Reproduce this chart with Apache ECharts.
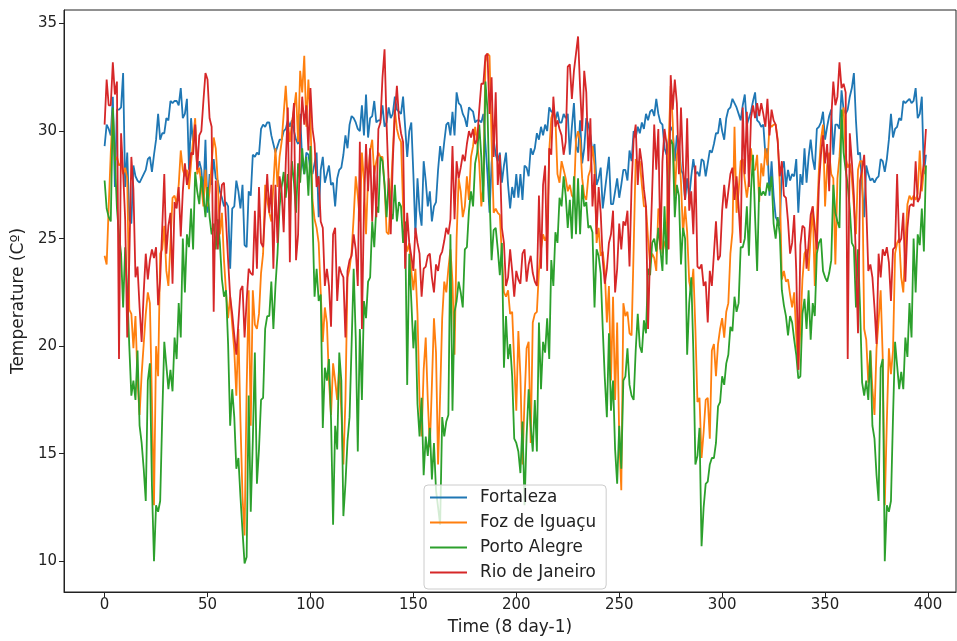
<!DOCTYPE html>
<html><head><meta charset="utf-8">
<script src="https://cdn.jsdelivr.net/npm/echarts/dist/echarts.min.js"></script>
<style>html,body{margin:0;padding:0;background:#fff;overflow:hidden}#c{width:957px;height:641px}</style>
</head><body><div id="c"></div>
<script>
const seriesNames = ["Fortaleza", "Foz de Iguaçu", "Porto Alegre", "Rio de Janeiro"];
const xTicks = [0, 50, 100, 150, 200, 250, 300, 350, 400];
const yTicks = [10, 15, 20, 25, 30, 35];

const fortaleza = [
29.3,30.3,30.1,29.8,31.6,27.4,31.0,31.0,31.1,32.7,27.4,29.0,25.9,25.7,28.4,27.9,27.7,27.6,27.8,28.0,28.2,28.7,28.8,28.1,28.9,29.6,30.8,29.6,29.9,29.9,30.6,30.5,31.4,31.3,31.4,31.4,31.2,32.0,30.6,30.8,31.5,28.2,30.6,29.4,30.3,28.2,
28.6,28.2,27.0,29.6,26.2,28.0,27.5,28.7,27.8,27.7,27.2,26.9,26.5,26.7,26.5,23.6,26.4,26.5,27.7,27.2,26.4,27.5,24.7,24.6,27.2,27.0,28.9,28.8,29.0,28.9,30.1,30.3,30.2,30.4,30.4,29.8,29.4,29.0,29.3,29.6,29.6,30.0,30.1,30.5,30.2,30.5,
30.0,29.6,29.4,30.8,28.6,28.0,29.0,28.9,28.2,28.0,28.5,29.0,26.0,28.2,28.8,27.6,28.0,28.4,27.5,27.6,26.5,27.8,28.2,28.3,28.9,29.8,29.2,30.3,30.7,30.6,30.4,30.1,30.0,31.2,29.8,31.7,29.7,30.6,30.7,31.4,30.4,30.5,30.5,31.2,30.2,30.4,
31.1,30.6,30.8,31.6,31.0,30.9,30.8,31.6,30.2,28.8,30.0,30.4,28.0,25.2,27.8,26.3,25.6,28.6,27.7,26.5,27.2,25.8,26.5,26.7,28.2,29.3,28.6,29.5,30.3,30.4,29.8,30.9,29.8,31.8,31.3,31.2,30.8,30.6,30.2,31.1,31.0,30.9,30.4,30.5,30.5,30.4,
30.8,29.4,28.0,26.2,28.5,29.6,28.9,28.6,29.0,27.6,28.4,29.0,27.5,26.4,27.4,26.9,28.0,26.9,28.0,26.8,28.4,28.3,27.9,29.2,28.9,29.2,29.9,29.6,30.2,29.8,30.3,30.0,31.1,30.9,30.9,30.5,30.9,30.4,30.4,30.8,30.6,30.8,28.9,30.2,31.3,29.3,
29.0,30.5,28.5,29.2,30.6,30.3,29.8,29.0,29.4,27.5,27.8,28.3,26.4,27.2,28.0,28.8,26.6,26.6,27.2,27.8,26.9,27.5,28.2,28.2,27.7,29.1,28.6,30.0,29.7,30.2,29.9,30.4,30.1,30.8,30.5,30.9,31.0,30.7,31.5,30.8,30.4,30.3,29.2,28.9,29.6,30.2,
30.0,28.6,29.8,29.4,28.2,28.0,26.8,27.8,26.9,27.9,28.7,28.0,28.1,27.9,28.7,28.6,27.9,28.5,29.1,29.0,29.4,29.9,29.9,30.6,30.0,29.6,30.6,31.0,31.1,31.5,31.3,31.1,30.8,30.5,31.2,31.7,30.3,30.6,30.9,31.4,31.8,30.5,30.4,30.2,30.3,28.9,
29.2,27.0,28.6,27.0,26.0,25.8,25.6,28.2,28.6,27.4,28.2,27.7,28.0,27.9,28.7,26.2,28.0,27.5,29.2,27.6,28.8,29.6,28.7,28.2,30.1,30.2,30.4,30.9,29.6,30.2,30.7,31.0,28.9,30.3,30.3,30.1,31.9,31.0,30.8,31.0,31.6,32.0,32.7,30.5,28.9,29.0,27.4,
26.0,28.4,28.0,27.7,27.8,27.6,27.8,27.9,28.7,28.6,28.1,28.7,29.6,30.8,29.7,30.1,30.2,30.6,30.5,31.4,31.3,31.4,31.5,31.3,31.4,32.0,30.6,30.8,31.6,28.0,28.9
];

const fozDeIguacu = [
24.2,23.8,26.5,29.0,31.0,28.6,28.8,28.4,28.5,28.0,28.3,27.8,21.7,21.5,19.9,21.4,18.4,16.8,18.7,20.1,21.5,22.5,22.0,17.5,12.6,20.0,18.6,24.3,24.5,25.6,23.5,22.8,24.8,26.9,27.0,26.6,27.5,29.1,28.2,27.9,28.2,27.3,28.5,29.6,30.6,28.0,
28.3,27.5,26.5,28.2,26.5,27.2,28.5,29.7,29.2,27.6,25.2,26.2,24.0,22.5,21.3,22.3,21.0,19.8,17.7,20.8,16.5,13.0,11.2,18.0,22.6,16.3,22.6,21.0,20.8,21.5,23.4,24.3,27.5,26.8,26.2,25.8,27.5,29.2,27.4,28.8,29.5,30.8,32.1,30.5,29.5,30.4,
31.0,31.8,29.5,32.8,31.8,33.5,30.2,32.4,30.6,26.8,25.9,25.5,24.8,22.5,20.2,21.8,21.1,18.4,16.8,19.2,18.4,17.5,19.1,17.0,14.5,17.5,23.2,23.6,24.4,26.0,27.9,27.0,25.8,29.0,27.7,25.2,27.9,29.1,29.6,28.0,28.6,29.0,28.8,28.8,27.5,25.3,
25.2,27.0,29.0,31.0,30.1,29.7,29.5,26.5,25.0,24.4,24.8,23.5,22.6,23.6,21.5,17.5,15.8,18.9,20.4,17.5,15.3,18.2,21.3,19.7,14.5,17.7,21.3,23.0,22.5,23.6,24.5,23.0,19.6,25.0,27.8,27.2,26.0,26.5,27.9,26.8,28.8,29.3,30.2,29.5,28.5,26.5,
27.5,33.2,33.6,33.5,29.5,26.2,26.4,26.2,26.1,24.2,22.5,22.3,22.6,21.5,21.6,19.2,17.0,20.7,18.6,14.5,17.5,19.9,20.2,15.5,21.1,21.5,21.6,23.5,24.5,25.2,24.9,25.2,29.1,30.6,31.0,30.6,28.0,27.6,28.6,28.2,27.8,27.2,27.5,27.0,26.9,29.6,
30.0,29.6,27.8,27.0,26.8,27.9,28.2,29.3,28.4,24.8,25.5,24.2,24.4,23.5,21.1,22.8,18.4,22.3,17.5,21.1,15.8,13.3,22.0,21.4,21.6,20.6,20.5,24.5,28.7,28.5,28.6,27.5,26.5,26.5,25.0,23.8,24.3,24.1,23.5,26.4,26.1,24.3,24.8,25.0,29.5,32.1,
30.4,27.0,28.9,29.4,27.6,25.2,26.5,25.3,23.0,22.5,23.6,20.8,17.4,17.6,14.8,16.0,17.5,17.6,15.7,19.8,20.1,18.6,20.1,20.8,21.3,20.4,21.6,22.0,24.3,25.3,30.2,26.2,27.2,28.6,28.7,27.7,26.9,27.7,29.2,28.2,28.2,28.9,26.7,28.5,27.9,29.2,
28.4,30.3,30.2,30.3,30.3,29.6,27.5,23.1,23.5,23.0,23.1,22.4,21.8,22.5,20.5,18.9,20.8,23.1,24.3,24.5,23.5,25.2,26.5,22.8,25.8,28.2,29.6,30.3,26.5,28.4,29.0,28.0,27.8,23.8,27.8,28.8,30.6,31.1,28.8,28.3,28.5,27.8,26.5,25.2,28.2,28.6,28.6,
20.8,20.3,18.3,19.8,18.0,16.8,19.9,21.2,22.6,19.5,12.6,16.5,19.9,18.7,19.8,24.3,24.8,25.0,23.2,22.5,24.8,26.6,27.0,26.8,27.0,26.8,27.1,29.1,27.2,28.2,28.4
];

const portoAlegre = [
27.7,26.4,26.0,25.8,31.1,28.8,26.4,25.2,24.3,21.8,24.6,22.6,20.0,17.7,18.4,17.5,19.8,16.3,15.5,14.3,12.8,18.4,19.2,13.5,10.0,12.6,12.3,12.8,16.7,20.2,19.1,18.0,18.9,17.9,20.4,19.4,22.0,20.4,25.0,22.5,25.2,24.6,26.4,24.5,28.1,27.2,
26.6,27.9,27.0,26.0,27.4,26.0,25.2,25.7,24.5,25.9,24.8,23.1,22.3,22.6,20.1,16.3,18.0,16.7,14.3,14.8,13.0,11.4,9.9,10.2,17.7,12.3,15.6,19.7,13.6,15.2,17.5,17.6,20.8,21.4,21.4,23.0,20.8,22.8,24.3,26.5,27.4,28.1,26.9,28.0,26.2,28.6,
27.6,26.2,28.5,27.6,29.2,28.0,28.8,27.0,29.3,26.0,22.3,23.6,22.1,22.4,16.2,19.0,18.4,19.4,16.6,11.7,16.3,15.2,19.7,18.4,12.1,13.6,15.6,16.7,20.1,23.6,20.4,15.1,20.8,17.5,22.1,21.3,23.0,23.2,25.8,24.6,26.5,26.2,28.8,28.6,27.5,26.0,
27.8,26.2,25.9,27.5,25.8,26.7,26.5,24.8,25.8,18.2,24.3,22.1,19.9,21.2,17.3,15.8,17.6,14.0,15.8,14.9,16.2,13.8,15.5,13.3,12.5,11.7,16.7,15.8,16.5,16.8,25.2,17.0,21.6,22.1,23.0,22.5,21.8,24.5,24.6,26.3,27.2,26.5,28.5,29.0,30.3,28.8,
26.7,32.3,31.0,27.0,24.0,25.4,25.5,24.5,23.3,24.8,19.0,21.4,19.4,20.1,18.6,15.7,15.5,15.1,14.1,16.5,12.6,15.8,18.0,16.3,15.1,17.5,15.1,21.1,18.0,20.2,19.7,21.3,19.4,24.0,22.8,25.3,24.8,26.9,26.5,27.9,27.0,25.5,26.8,25.0,27.9,25.2,
27.8,25.2,27.5,26.5,26.7,25.5,25.6,25.3,21.8,24.5,24.2,23.4,20.8,18.5,16.7,20.6,17.0,18.4,15.2,13.6,16.3,14.3,18.4,18.6,19.9,18.2,17.7,17.5,19.8,21.5,20.0,19.7,21.2,20.6,23.6,23.3,24.8,25.0,24.4,25.5,24.5,23.5,26.5,23.8,27.0,29.6,
29.4,26.0,27.5,27.0,23.8,25.5,25.0,19.6,22.0,23.2,19.8,14.5,14.9,16.2,10.7,12.5,13.6,13.7,14.5,14.8,14.8,15.5,17.2,17.4,18.6,18.2,19.2,19.6,20.9,20.7,22.3,21.6,22.0,24.6,24.6,25.0,26.5,24.2,27.2,28.9,26.0,23.5,27.4,27.0,27.2,27.0,
27.6,27.2,27.9,25.7,25.0,26.0,25.2,22.6,21.9,21.4,20.5,21.4,21.1,20.3,19.6,18.5,18.6,21.5,22.2,20.8,22.6,20.3,22.0,21.4,24.3,24.8,25.0,23.5,23.2,23.0,23.4,24.0,27.5,26.2,25.8,25.5,31.0,29.0,28.2,27.5,26.4,24.8,24.6,21.8,24.5,21.8,18.3,
17.7,18.4,17.5,19.8,16.3,15.7,14.0,12.8,19.0,19.4,10.0,12.6,12.3,12.8,16.7,20.2,19.1,18.0,18.8,18.0,20.4,19.5,22.0,20.4,25.0,22.5,25.2,24.7,26.4,24.4,28.4
];

const rioDeJaneiro = [
30.3,32.4,31.2,31.2,33.2,31.7,32.3,19.4,29.9,28.1,25.9,20.4,24.0,28.8,27.3,23.2,23.7,21.8,20.2,22.5,24.3,23.1,24.0,24.5,24.1,24.6,21.9,23.1,25.5,28.0,24.3,25.6,26.2,22.9,26.7,26.4,27.4,25.1,27.2,28.5,27.5,28.0,29.0,28.9,30.3,28.2,
29.8,30.0,31.4,32.7,32.4,30.6,30.2,21.6,27.7,24.5,26.5,27.5,27.6,25.8,24.0,22.3,21.5,20.5,19.6,21.1,22.6,22.8,20.4,22.1,23.6,23.4,23.3,26.3,23.6,27.4,24.8,24.6,26.3,28.0,26.2,27.5,23.6,27.5,24.8,27.9,27.2,25.3,28.5,31.1,23.9,30.1,
31.3,24.0,25.2,29.8,31.6,30.3,31.2,29.1,32.0,30.1,29.4,27.4,27.9,25.8,25.5,22.8,23.6,22.8,20.9,25.2,25.5,22.1,23.7,23.4,23.2,20.4,23.5,24.0,24.2,25.2,24.5,22.8,29.5,20.8,26.5,29.4,27.2,29.2,25.8,28.4,26.0,30.1,30.4,32.5,33.8,30.3,
27.6,25.2,28.6,30.8,32.1,30.6,29.9,29.5,23.6,26.2,24.8,24.2,23.5,25.5,24.8,24.3,22.3,23.6,23.7,24.2,24.3,23.2,22.5,23.8,23.5,24.2,24.4,24.9,25.5,25.2,25.9,29.3,25.9,28.6,27.8,28.3,28.9,28.6,29.4,30.0,29.7,30.1,29.4,29.6,31.0,32.2,
32.2,33.5,33.6,30.8,32.5,28.8,31.8,27.5,28.9,25.5,24.8,22.8,23.2,24.5,23.5,22.3,23.5,23.1,22.9,24.3,24.5,23.0,23.8,24.2,23.4,23.0,22.8,27.0,23.6,27.5,28.4,23.5,29.2,28.9,31.6,30.2,30.5,30.1,29.8,28.9,29.5,33.0,33.1,31.5,32.8,33.6,
34.4,32.0,30.0,32.8,31.8,28.6,30.6,26.5,28.0,25.2,27.4,26.2,24.0,22.9,23.6,24.8,25.2,26.3,22.5,23.6,25.7,24.5,25.8,25.6,26.3,23.7,27.5,29.6,30.3,27.5,29.2,28.5,27.3,26.5,20.8,24.3,27.2,30.3,28.2,30.1,24.5,28.6,30.1,29.4,24.5,32.6,
31.0,32.4,31.3,28.0,31.1,28.4,26.8,30.6,26.3,27.2,25.2,28.4,23.7,23.6,23.8,22.8,23.0,21.1,23.5,22.8,24.3,25.8,24.0,24.2,26.3,27.5,26.4,27.2,28.0,28.3,26.8,27.9,26.5,24.8,31.1,28.0,30.9,27.4,30.6,31.2,30.6,31.3,30.7,31.3,30.8,30.2,
31.5,29.8,31.0,30.5,30.3,29.5,27.9,28.6,27.0,26.9,25.8,24.3,24.8,26.1,23.5,18.9,24.7,25.6,25.5,23.6,24.8,26.1,26.5,25.5,24.5,27.5,28.9,29.8,28.5,29.4,27.2,30.6,32.3,31.2,31.6,33.2,32.0,32.2,31.8,19.4,29.9,28.6,27.0,24.0,20.6,27.7,28.2,
28.9,26.5,23.5,23.8,23.2,21.8,20.1,24.3,23.2,24.5,24.2,24.6,23.9,22.1,24.5,24.6,28.0,24.8,25.0,26.2,23.0,25.5,26.5,26.6,26.5,28.6,26.7,26.9,27.8,28.5,30.1
];

const colors = ["#1f77b4", "#ff7f0e", "#2ca02c", "#d62728"];
const allValues = [fortaleza, fozDeIguacu, portoAlegre, rioDeJaneiro];

const FONT = "DejaVu Sans";
const chart = echarts.init(document.getElementById('c'), null, {renderer: 'canvas'});
chart.setOption({
  animation: false,
  backgroundColor: '#ffffff',
  grid: {left: 64, right: 1, top: 10, bottom: 42, show: true, borderColor: '#222', borderWidth: 1},
  legend: {
    orient: 'vertical', left: 424, top: 485,
    data: seriesNames,
    icon: 'rect',
    itemWidth: 37, itemHeight: 2, itemGap: 0,
    padding: [0, 10, 4, 6],
    backgroundColor: 'rgba(255,255,255,0.8)',
    borderColor: '#cccccc', borderWidth: 1, borderRadius: 4,
    textStyle: {fontFamily: FONT, fontSize: 16.8, color: '#222', lineHeight: 25, padding: [0, 0, 0, 8]}
  },
  xAxis: {
    type: 'value', min: -19.72, max: 413.6,
    name: 'Time (8 day-1)', nameLocation: 'middle', nameGap: 27,
    nameTextStyle: {fontFamily: FONT, fontSize: 17, color: '#222'},
    splitLine: {show: false},
    axisLine: {show: true, onZero: false, lineStyle: {color: '#222', width: 1}},
    axisTick: {show: true, length: 5, customValues: xTicks, lineStyle: {color: '#222'}},
    axisLabel: {customValues: xTicks, fontFamily: FONT, fontSize: 15, color: '#222', margin: 6}
  },
  yAxis: {
    type: 'value', min: 8.57, max: 35.63,
    name: 'Temperature (Cº)', nameLocation: 'middle', nameGap: 36, nameRotate: 90,
    nameTextStyle: {fontFamily: FONT, fontSize: 17, color: '#222'},
    splitLine: {show: false},
    axisLine: {show: true, onZero: false, lineStyle: {color: '#222', width: 1}},
    axisTick: {show: true, length: 5, customValues: yTicks, lineStyle: {color: '#222'}},
    axisLabel: {customValues: yTicks, fontFamily: FONT, fontSize: 15, color: '#222', margin: 7}
  },
  series: allValues.map((vals, s) => ({
    name: seriesNames[s], type: 'line',
    data: vals.map((v, i) => [i, v]),
    symbol: 'none', showSymbol: false,
    lineStyle: {width: 1.8, color: colors[s]},
    itemStyle: {color: colors[s]},
    emphasis: {disabled: true}
  }))
});
</script>
</body></html>
